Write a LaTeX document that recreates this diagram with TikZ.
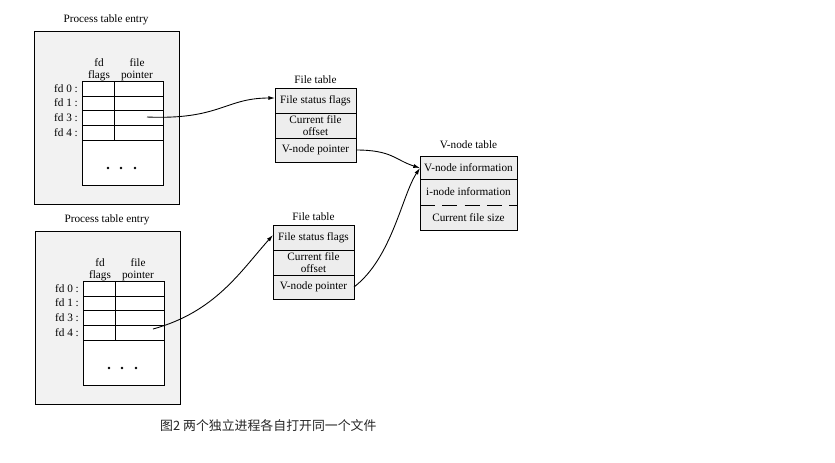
\documentclass[tikz,border=0pt]{standalone}
\usepackage{fontspec}
\setmainfont{Liberation Serif}
\newfontfamily\cjk{Noto Sans CJK SC}
\usetikzlibrary{arrows.meta,positioning}
\definecolor{procfill}{HTML}{F2F2F2}
\definecolor{tabfill}{HTML}{EDEDED}
\tikzstyle{box}=[line width=0.8pt]
\tikzstyle{lbl}=[font=\fontsize{9.6}{10}\selectfont, inner sep=0pt, align=center]
\tikzstyle{arr}=[line width=0.75pt, -{Latex[length=2mm,width=1.2mm]}]

\begin{document}
\begin{tikzpicture}[x=0.03cm,y=-0.03cm]
\useasboundingbox[fill=white] (0,0) rectangle (835,462);
% process table entries
\foreach \p/\dx/\dy/\ox/\oy in {a/0/0/147/117,b/1/200/152/129} {
\begin{scope}[shift={(\dx,\dy)}]
	\node[lbl] (pt\p) at (106,20) {Process table entry};
	\draw[box, fill=procfill] (34,31) rectangle (179,204);
	\draw[box, fill=white] (82,81) rectangle (163,185);
	\foreach \ry in {96,110,125,140} {
		\draw[box] (82,\ry) -- (163,\ry);
	}
	\draw[box] (114,81) -- (114,140);
	\node[lbl] (fl\p) at (99,70) {fd\\flags};
	\node[lbl] (fp\p) at (137,70) {file\\pointer};
	\foreach \n/\ry in {0/89,1/103,3/118,4/133} {
		\node[lbl] (fd\p\n) at (66,\ry) {fd \n\ :};
	}
	\foreach \dotx in {108,121,135} {
		\fill (\dotx,168) circle (1.1pt);
	}
	\coordinate (out\p) at (\ox,\oy);
\end{scope}
}
% file tables
\foreach \t/\x/\y in {a/275/88,b/273/225} {
\begin{scope}[shift={(\x,\y)}]
	\node[lbl] (ft\t title) at (40.5,-8) {File table};
	\draw[box, fill=tabfill] (0,0) rectangle (81,74);
	\draw[box] (0,25) -- (81,25) (0,50) -- (81,50);
	\node[lbl] (ft\t flags) at (40.5,12.5) {File status flags};
	\node[lbl] (ft\t offset) at (40.5,37.5) {Current file\\offset};
	\node[lbl] (ft\t vnode) at (40.5,62) {V-node pointer};
	\coordinate (ft\t in) at (0,10);
	\coordinate (ft\t out) at (81,62);
\end{scope}
}
% v-node table
\begin{scope}[shift={(420,156)}]
	\node[lbl] (vntitle) at (48.5,-11) {V-node table};
	\draw[box, fill=tabfill] (0,0) rectangle (97,74);
	\draw[box] (0,23) -- (97,23);
	\draw[box, dash pattern=on 13pt off 6pt] (0,49) -- (97,49);
	\node[lbl] (vninfo) at (48.5,11.5) {V-node information};
	\node[lbl] (ininfo) at (48.5,36) {i-node information};
	\node[lbl] (vnsize) at (48.5,61.5) {Current file size};
	\coordinate (vnin) at (0,12);
\end{scope}
\draw[arr] (outa) .. controls (220,120) and (225,98) .. (ftain);
\draw[arr] (outb) .. controls (215,312) and (240,272) .. (ftbin);
\draw[arr] (ftaout) .. controls (392,150) and (395,160) .. (vnin);
\draw[arr] (ftbout) .. controls (392,258) and (402,195) .. (vnin);
\node[anchor=west, inner sep=0pt, text=black!85, font=\cjk\fontsize{11}{12}\selectfont] (caption) at (160,426) {图2 两个独立进程各自打开同一个文件};
\end{tikzpicture}
\end{document}
